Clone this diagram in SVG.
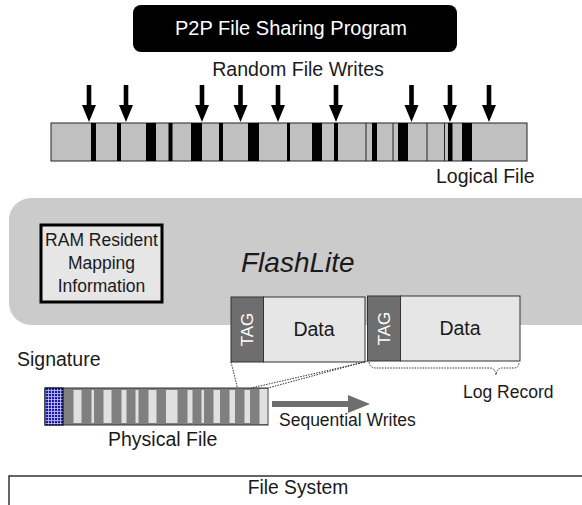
<svg xmlns="http://www.w3.org/2000/svg" width="582" height="505" viewBox="0 0 582 505">
<style>
text{font-family:"Liberation Sans",Arial,sans-serif;fill:#1a1a1a}
.lbl{font-size:19.5px}
.blk{fill:#000}
.thin{stroke:#222;stroke-width:1}
.dot{fill:none;stroke:#333;stroke-width:1;stroke-dasharray:1.5 1.2}
.tag{fill:#6e6e6e;stroke:#333;stroke-width:1}
.data{fill:#e6e6e6;stroke:#333;stroke-width:1}
.lt{fill:#e0e0e0}
.arr{fill:#000}
</style>
<defs>
<path id="dn" d="M-2.3,0 H2.3 V20 H7 L0,37 L-7,20 H-2.3 Z"/>
<pattern id="grid" width="3" height="3" patternUnits="userSpaceOnUse">
<rect width="3" height="3" fill="#1a1aa0"/>
<path d="M0,0.5 H3 M0.5,0 V3" stroke="#c8c8ff" stroke-width="0.8"/>
</pattern>
</defs>

<g id="p2p">
<rect x="133" y="5" width="324" height="47" rx="8" fill="#000"/>
<text x="291" y="35" text-anchor="middle" style="font-size:20px;fill:#fff">P2P File Sharing Program</text>
</g>

<g id="random-label"><text x="298" y="76" text-anchor="middle" style="font-size:19.6px">Random File Writes</text></g>

<g id="logical-file">
<rect x="51" y="123" width="476" height="38" fill="#c0c0c0" stroke="#222" stroke-width="1"/>
<rect class="blk" x="91" y="123" width="5" height="38"/>
<rect class="blk" x="117" y="123" width="4" height="38"/>
<rect class="blk" x="146" y="123" width="10" height="38"/>
<rect class="blk" x="168.5" y="123" width="4" height="38"/>
<rect class="blk" x="191" y="123" width="11" height="38"/>
<rect class="blk" x="219" y="123" width="4" height="38"/>
<rect class="blk" x="248" y="123" width="11" height="38"/>
<rect class="blk" x="287" y="123" width="3" height="38"/>
<rect class="blk" x="312" y="123" width="10" height="38"/>
<rect class="blk" x="334" y="123" width="4" height="38"/>
<line class="thin" x1="366" y1="123" x2="366" y2="161"/>
<rect class="blk" x="372" y="123" width="5" height="38"/>
<line class="thin" x1="393" y1="123" x2="393" y2="161"/>
<rect class="blk" x="398" y="123" width="10" height="38"/>
<line class="thin" x1="427" y1="123" x2="427" y2="161"/>
<line class="thin" x1="444.5" y1="123" x2="444.5" y2="161"/>
<rect class="blk" x="448" y="123" width="4.5" height="38"/>
<rect class="blk" x="462" y="123" width="10" height="38"/>
<text class="lbl" x="436" y="183">Logical File</text>
</g>

<g id="flashlite">
<rect x="9" y="198" width="600" height="127" rx="22" fill="#cbcbcb"/>
<text x="241" y="272" style="font-size:28px;font-style:italic">FlashLite</text>
</g>

<g id="ram-mapping">
<rect x="41" y="225" width="121" height="77" fill="#e6e6e6" stroke="#000" stroke-width="3"/>
<text x="101.5" y="246" text-anchor="middle" style="font-size:17.5px">RAM Resident</text>
<text x="101.5" y="269" text-anchor="middle" style="font-size:17.5px">Mapping</text>
<text x="101.5" y="292" text-anchor="middle" style="font-size:17.5px">Information</text>
</g>

<g id="record1">
<rect class="tag" x="231" y="297" width="32.5" height="65"/>
<rect class="data" x="263.5" y="297" width="101.5" height="65"/>
<text x="253" y="329.5" text-anchor="middle" transform="rotate(-90 253 329.5)" style="font-size:17px;fill:#fff">TAG</text>
<text class="lbl" x="314" y="336" text-anchor="middle">Data</text>
</g>

<g id="record2">
<rect class="tag" x="367.5" y="296" width="33" height="65"/>
<rect class="data" x="400.5" y="296" width="119.5" height="65"/>
<text x="390" y="328.5" text-anchor="middle" transform="rotate(-90 390 328.5)" style="font-size:17px;fill:#fff">TAG</text>
<text class="lbl" x="460" y="335" text-anchor="middle">Data</text>
</g>

<g id="log-record-label"><text x="463" y="398" style="font-size:17.5px">Log Record</text></g>

<g id="signature-label"><text class="lbl" x="17" y="366">Signature</text></g>

<g id="physical-file">
<rect x="45" y="388" width="223" height="37" fill="#808080" stroke="#333" stroke-width="1"/>
<rect x="45" y="388" width="18" height="37" fill="url(#grid)" stroke="#000" stroke-width="1"/>
<rect class="lt" x="73.5" y="390" width="8" height="33"/>
<rect class="lt" x="91.5" y="390" width="2.5" height="33"/>
<rect class="lt" x="103.5" y="390" width="8" height="33"/>
<rect class="lt" x="121.5" y="390" width="5" height="33"/>
<rect class="lt" x="135.5" y="390" width="3" height="33"/>
<rect class="lt" x="148.5" y="390" width="8" height="33"/>
<rect class="lt" x="166" y="390" width="11.5" height="33"/>
<rect class="lt" x="187.5" y="390" width="5" height="33"/>
<rect class="lt" x="201.5" y="390" width="2.5" height="33"/>
<rect class="lt" x="213.5" y="390" width="6.5" height="33"/>
<rect class="lt" x="229.5" y="390" width="5.5" height="33"/>
<rect class="lt" x="244.5" y="390" width="5.5" height="33"/>
<rect class="lt" x="259.5" y="389" width="8" height="35"/>
<text class="lbl" x="108" y="446">Physical File</text>
</g>

<g id="sequential-writes">
<rect x="272" y="401" width="77" height="6" fill="#6e6e6e"/>
<path d="M348,395 L370,404 L348,413 Z" fill="#6e6e6e"/>
<text x="279" y="426" style="font-size:17.5px">Sequential Writes</text>
</g>

<g id="file-system">
<rect x="9" y="476" width="600" height="60" fill="#fff" stroke="#333" stroke-width="1.5"/>
<text x="298" y="494" text-anchor="middle" style="font-size:19.3px">File System</text>
</g>

<g id="connectors">
<use href="#dn" class="arr" x="89" y="85"/>
<use href="#dn" class="arr" x="126" y="85"/>
<use href="#dn" class="arr" x="202" y="85"/>
<use href="#dn" class="arr" x="240.5" y="85"/>
<use href="#dn" class="arr" x="278" y="85"/>
<use href="#dn" class="arr" x="336" y="85"/>
<use href="#dn" class="arr" x="411.5" y="85"/>
<use href="#dn" class="arr" x="450" y="85"/>
<use href="#dn" class="arr" x="489" y="85"/>
<path class="dot" d="M231,362 L237.5,388"/>
<path class="dot" d="M365,362 L251,388"/>
<path class="dot" d="M367.5,361 L268,388"/>
<path class="dot" d="M369,362 Q370,368 376,368 L490,368 Q495,368 496,375 Q497,368 502,368 L514,368 Q519,368 519,362"/>
</g>
</svg>
